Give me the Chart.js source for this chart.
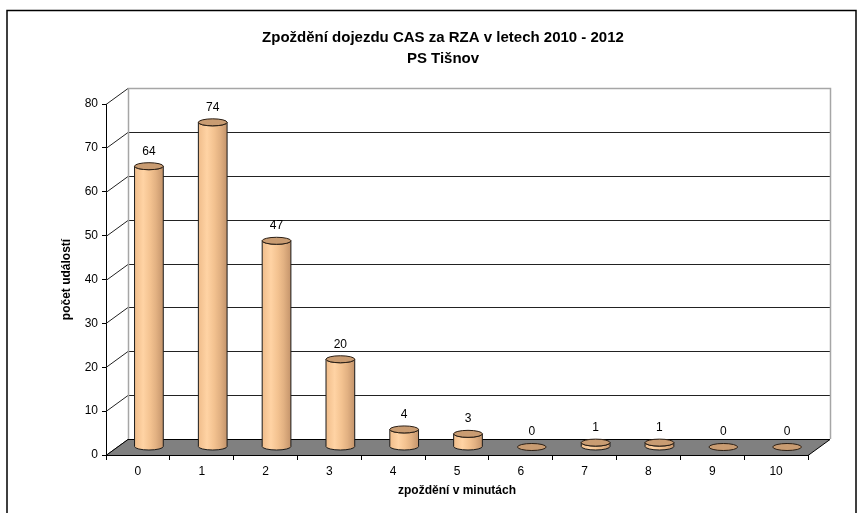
<!DOCTYPE html>
<html lang="cs">
<head>
    <meta charset="UTF-8">
    <title>Zpoždění dojezdu CAS za RZA v letech 2010 - 2012</title>
    <script src="https://cdn.jsdelivr.net/npm/chart.js"></script>
    <style>
        body {
            margin: 0;
            background-color: #fff;
        }
        canvas {
            display: block;
        }
    </style>
</head>
<body>
    <canvas id="delayChart" width="864" height="513"></canvas>

    <script>
        // data
        const categories = ['0', '1', '2', '3', '4', '5', '6', '7', '8', '9', '10'];
        const eventCounts = [64, 74, 47, 20, 4, 3, 0, 1, 1, 0, 0];
        const titleLines = ['Zpoždění dojezdu CAS za RZA v letech 2010 - 2012', 'PS Tišnov'];

        // 3D depth of the plot (back wall offset)
        const DX = 22;
        const DY = -16;

        const fontFamily = '"Liberation Sans", Arial, sans-serif';

        // walls, grid and floor behind the bars
        const wallsPlugin = {
            id: 'walls3d',
            beforeDatasetsDraw(chart) {
                const ctx = chart.ctx;
                const area = chart.chartArea;
                const yScale = chart.scales.y;
                const L = area.left, R = area.right, T = area.top, B = area.bottom;

                ctx.save();
                // back wall
                ctx.fillStyle = '#fff';
                ctx.fillRect(L + DX, T + DY, R - L, B - T);

                // grid lines on back wall + left wall diagonals
                yScale.ticks.forEach(t => {
                    const y = Math.round(yScale.getPixelForValue(t.value)) + 0.5;
                    if (t.value > yScale.min && t.value < yScale.max) {
                        ctx.strokeStyle = '#222';
                        ctx.lineWidth = 1;
                        ctx.beginPath();
                        ctx.moveTo(L + DX, y + DY);
                        ctx.lineTo(R + DX, y + DY);
                        ctx.stroke();
                    }
                    ctx.strokeStyle = '#222';
                    ctx.beginPath();
                    ctx.moveTo(L, y);
                    ctx.lineTo(L + DX, y + DY);
                    ctx.stroke();
                });

                // back wall border
                ctx.strokeStyle = '#a6a6a6';
                ctx.lineWidth = 1.5;
                ctx.beginPath();
                ctx.moveTo(L + DX + 0.5, B + DY);
                ctx.lineTo(L + DX + 0.5, T + DY + 0.5);
                ctx.lineTo(R + DX + 0.5, T + DY + 0.5);
                ctx.lineTo(R + DX + 0.5, B + DY);
                ctx.stroke();

                // floor
                ctx.fillStyle = '#808080';
                ctx.strokeStyle = '#000';
                ctx.lineWidth = 1;
                ctx.beginPath();
                ctx.moveTo(L, B + 0.5);
                ctx.lineTo(R, B + 0.5);
                ctx.lineTo(R + DX, B + DY + 0.5);
                ctx.lineTo(L + DX, B + DY + 0.5);
                ctx.closePath();
                ctx.fill();
                ctx.stroke();
                ctx.restore();
            },
            beforeDraw(chart) {
                // outer frame
                const ctx = chart.ctx;
                ctx.save();
                ctx.strokeStyle = '#000';
                ctx.lineWidth = 1.5;
                ctx.strokeRect(7, 10.5, 849, 520);
                ctx.restore();
            }
        };

        // cylinders drawn from the bar elements, plus value labels
        const cylinderPlugin = {
            id: 'cylinders',
            afterDatasetsDraw(chart) {
                const ctx = chart.ctx;
                const meta = chart.getDatasetMeta(0);
                const data = chart.data.datasets[0].data;
                ctx.save();
                meta.data.forEach((bar, i) => {
                    const cx = bar.x + DX / 2;
                    const top = bar.y + DY / 2;
                    const bottom = bar.base + DY / 2;
                    const rx = bar.width / 2;
                    const ry = 3.5;

                    const grad = ctx.createLinearGradient(cx - rx, 0, cx + rx, 0);
                    grad.addColorStop(0, '#f0bd8b');
                    grad.addColorStop(0.3, '#ffd3a4');
                    grad.addColorStop(0.55, '#f3c290');
                    grad.addColorStop(0.75, '#e2b182');
                    grad.addColorStop(1, '#c4946b');

                    ctx.lineWidth = 1;
                    ctx.strokeStyle = '#1a1a1a';
                    if (bottom - top > 0.5) {
                        ctx.beginPath();
                        ctx.moveTo(cx - rx, top);
                        ctx.lineTo(cx - rx, bottom);
                        ctx.ellipse(cx, bottom, rx, ry, 0, Math.PI, 0, true);
                        ctx.lineTo(cx + rx, top);
                        ctx.ellipse(cx, top, rx, ry, 0, 0, Math.PI, false);
                        ctx.closePath();
                        ctx.fillStyle = grad;
                        ctx.fill();
                        ctx.stroke();
                    }
                    ctx.beginPath();
                    ctx.ellipse(cx, top, rx, ry, 0, 0, Math.PI * 2);
                    ctx.fillStyle = '#c99c72';
                    ctx.fill();
                    ctx.strokeStyle = '#2a1e14';
                    ctx.stroke();

                    // value label
                    ctx.fillStyle = '#000';
                    ctx.font = '12px ' + fontFamily;
                    ctx.textAlign = 'center';
                    ctx.textBaseline = 'middle';
                    ctx.fillText(String(data[i]), cx, top - 15);
                });
                ctx.restore();
            }
        };

        const config = {
            type: 'bar',
            data: {
                labels: categories,
                datasets: [{
                    label: 'počet událostí',
                    data: eventCounts,
                    backgroundColor: 'rgba(0,0,0,0)',
                    borderWidth: 0,
                    categoryPercentage: 1,
                    barPercentage: 0.45
                }]
            },
            options: {
                responsive: false,
                animation: false,
                layout: {
                    padding: { left: 78, right: 56, top: 10, bottom: 15 }
                },
                scales: {
                    x: {
                        grid: {
                            offset: true,
                            drawOnChartArea: false,
                            drawTicks: true,
                            tickLength: 5,
                            color: '#000'
                        },
                        border: { color: '#000', width: 1 },
                        ticks: {
                            color: '#000',
                            padding: 4,
                            font: { family: fontFamily, size: 12 }
                        },
                        title: {
                            display: true,
                            text: 'zpoždění v minutách',
                            color: '#000',
                            padding: 0,
                            font: { family: fontFamily, size: 12, weight: 'bold' }
                        },
                        afterFit(scale) { scale.height = 43; }
                    },
                    y: {
                        min: 0,
                        max: 80,
                        ticks: {
                            stepSize: 10,
                            color: '#000',
                            padding: 4,
                            font: { family: fontFamily, size: 12 }
                        },
                        grid: {
                            drawOnChartArea: false,
                            drawTicks: true,
                            tickLength: 4,
                            color: '#000'
                        },
                        border: { color: '#000', width: 1 },
                        title: {
                            display: true,
                            text: 'počet událostí',
                            color: '#000',
                            padding: { top: -19, bottom: 0 },
                            font: { family: fontFamily, size: 12, weight: 'bold' }
                        },
                        afterFit(scale) { scale.width = 28; }
                    }
                },
                plugins: {
                    legend: { display: false },
                    tooltip: { enabled: false },
                    title: {
                        display: true,
                        text: titleLines,
                        color: '#000',
                        padding: { top: 17, bottom: 35 },
                        font: { family: fontFamily, size: 15, weight: 'bold', lineHeight: 1.4 }
                    }
                }
            },
            plugins: [wallsPlugin, cylinderPlugin]
        };

        new Chart(document.getElementById('delayChart'), config);
    </script>
</body>
</html>
